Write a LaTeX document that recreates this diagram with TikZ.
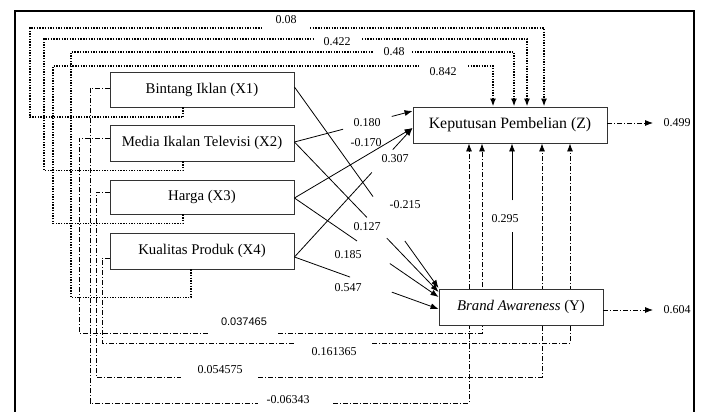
\documentclass[tikz,border=0pt]{standalone}
\usepackage{fontspec}
\setmainfont{Liberation Serif}
\newfontfamily\labsans{Liberation Sans}
\usetikzlibrary{arrows.meta,calc,backgrounds}
\begin{document}
\begin{tikzpicture}[x=1pt,y=-1pt,
  var/.style={draw=black!80, line width=0.9pt, fill=white, inner sep=0pt,
    minimum width=184pt, minimum height=35pt, font=\fontsize{14.8}{17}\selectfont},
  coef/.style={font=\fontsize{12}{14}\selectfont, inner sep=1pt},
  pathln/.style={line width=0.8pt, black},
  tip/.style={-{Latex[length=8pt,width=6pt]}},
  total/.style={line width=1.9pt, dash pattern=on 1.4pt off 1.3pt},
  indir/.style={line width=0.8pt, dash pattern=on 5pt off 2pt on 1pt off 2pt},
]
\useasboundingbox (0,0) rectangle (705,412);
% frame
\draw[line width=2.8pt, line join=miter] (15,440) -- (15,11) -- (694,11) -- (694,440);

% variable boxes
\node[var] (X1) at (202,89.5) {Bintang Iklan (X1)};
\node[var, minimum height=36pt] (X2) at (202,143) {Media Ikalan Televisi (X2)};
\node[var, minimum height=34pt] (X3) at (202,197) {Harga (X3)};
\node[var, minimum height=36pt] (X4) at (202,251) {Kualitas Produk (X4)};
\node[var, minimum width=194pt, minimum height=36pt, font=\fontsize{15.8}{18}\selectfont] (Z) at (510,125) {Keputusan Pembelian (Z)};
\node[var, minimum width=164pt, minimum height=36pt] (Y) at (521,307) {\textit{Brand Awareness} (Y)};

% anchor points
\coordinate (a1) at ($(X1.east)+(0,-2.5)$);
\coordinate (a2) at ($(X2.east)+(0,-1)$);
\coordinate (a3) at ($(X3.east)+(0,1)$);
\coordinate (a4) at ($(X4.east)+(0,6)$);
\coordinate (zA) at ($(Z.west)+(0,-14)$);
\coordinate (zB) at ($(Z.west)+(0,3)$);
\coordinate (y1) at ($(Y.west)+(0,-19)$);
\coordinate (y2) at ($(Y.west)+(0,-15)$);
\coordinate (y3) at ($(Y.west)+(0,-10)$);
\coordinate (y4) at ($(Y.west)+(0,2)$);

% direct paths to Y
\draw[pathln] (a1) -- ($(a1)!0.545!(y1)$);
\draw[pathln,tip] ($(a1)!0.766!(y1)$) -- (y1);
\draw[pathln] (a2) -- ($(a2)!0.503!(y2)$);
\draw[pathln,tip] ($(a2)!0.641!(y2)$) -- (y2);
\draw[pathln] (a3) -- ($(a3)!0.434!(y3)$);
\draw[pathln,tip] ($(a3)!0.662!(y3)$) -- (y3);
\draw[pathln] (a4) -- ($(a4)!0.386!(y4)$);
\draw[pathln,tip] ($(a4)!0.676!(y4)$) -- (y4);
% direct paths to Z
\draw[pathln] (a2) -- ($(a2)!0.412!(zA)$);
\draw[pathln,tip] ($(a2)!0.824!(zA)$) -- (zA);
\draw[pathln,tip] (a3) -- (zB);
\draw[pathln] (a4) -- ($(a4)!0.655!(zB)$);
\draw[pathln,tip] ($(a4)!0.832!(zB)$) -- (zB);

\node[coef] (c1) at (405,205) {-0.215};
\node[coef] (c2) at (367,227) {0.127};
\node[coef] (c3) at (348,255) {0.185};
\node[coef] (c4) at (348,288) {0.547};
\node[coef] (c5) at (367,123) {0.180};
\node[coef] (c6) at (366,143) {-0.170};
\node[coef] (c7) at (395,159) {0.307};

% Y -> Z
\coordinate (yz1) at ($(Y.north)+(-9,0)$);
\coordinate (yz2) at ($(Z.south)+(2,0)$);
\draw[pathln] (yz1) -- ++(0,-57);
\draw[pathln,tip] ($(yz2)+(0,57)$) -- (yz2);
\node[coef] (c8) at (505,219) {0.295};

% total effects (dotted)
\coordinate (t1s) at ($(X1.south)+(-19,0)$);
\coordinate (t1e) at ($(Z.north)+(34,0)$);
\draw[total] (t1s) -- ++(0,10) -| (30,28) -- (262,28);
\draw[total,tip] (310,28) -| (t1e);
\node[coef] (d1) at (286,20) {0.08};

\coordinate (t2s) at ($(X2.south)+(-19,0)$);
\coordinate (t2e) at ($(Z.north)+(17,0)$);
\draw[total] (t2s) -- ++(0,9) -| (44,39) -- (313,39);
\draw[total,tip] (362,39) -| (t2e);
\node[coef] (d2) at (337,42) {0.422};

\coordinate (t3s) at ($(X3.south)+(-19,0)$);
\coordinate (t3e) at ($(Z.north)+(-17,0)$);
\draw[total] (t3s) -- ++(0,9) -| (53,66) -- (420,66);
\draw[total,tip] (468,66) -| (t3e);
\node[coef] (d3) at (443,72) {0.842};

\coordinate (t4s) at ($(X4.south)+(-11,0)$);
\coordinate (t4e) at ($(Z.north)+(4,0)$);
\draw[total] (t4s) -- ++(0,28) -| (71,52) -- (373,52);
\draw[total,tip] (412,52) -| (t4e);
\node[coef] (d4) at (394,52) {0.48};

% indirect effects (dash-dot), behind the boxes
\begin{pgfonlayer}{background}
\draw[indir] ($(X1.west)+(0,-1.5)$) -| (90,403) -- (258,403);
\draw[indir,tip] (333,403) -| ($(Z.south)+(-41,0)$);
\draw[indir] ($(X2.west)+(0,-5)$) -| (79,333) -- (208,333);
\draw[indir,tip] (278,333) -| ($(Z.south)+(-28,0)$);
\draw[indir] ($(X3.west)+(0,-5)$) -| (96,377) -- (181,377);
\draw[indir,tip] (258,377) -| ($(Z.south)+(32,0)$);
\draw[indir] ($(X4.west)+(0,7)$) -| (102,343) -- (295,343);
\draw[indir,tip] (372,343) -| ($(Z.south)+(60,0)$);
\end{pgfonlayer}
\node[coef] (e1) at (288,400) {-0.06343};
\node[inner sep=1pt, font=\labsans\fontsize{11}{13}\selectfont] (e2) at (244,322) {0.037465};
\node[coef] (e3) at (220,370) {0.054575};
\node[coef] (e4) at (334,352) {0.161365};

% residuals
\coordinate (zo) at (653,123);
\coordinate (yo) at (653,310);
\draw[indir,tip] ($(Z.east)+(0,-2)$) -- (zo);
\draw[indir,tip] ($(Y.east)+(0,3)$) -- (yo);
\node[coef] (r1) at (677,123) {0.499};
\node[coef] (r2) at (677,310) {0.604};
\end{tikzpicture}
\end{document}
